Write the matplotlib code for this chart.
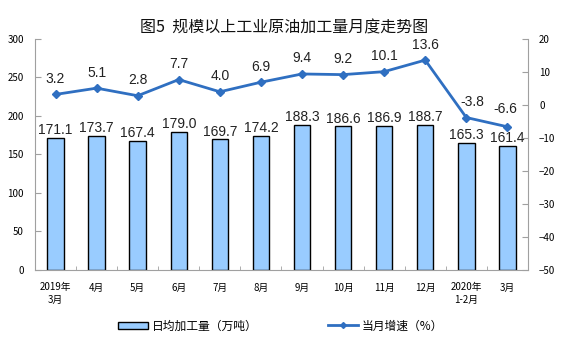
import numpy as np
import matplotlib.pyplot as plt
from matplotlib.lines import Line2D
from matplotlib.patches import Patch

plt.rcParams['font.family'] = ['Noto Sans CJK SC', 'DejaVu Sans']

# data
months = ['2019年\n3月', '4月', '5月', '6月', '7月', '8月', '9月', '10月',
          '11月', '12月', '2020年\n1-2月', '3月']
daily_output = [171.1, 173.7, 167.4, 179.0, 169.7, 174.2, 188.3, 186.6,
                186.9, 188.7, 165.3, 161.4]
growth = [3.2, 5.1, 2.8, 7.7, 4.0, 6.9, 9.4, 9.2, 10.1, 13.6, -3.8, -6.6]

bar_color = '#99CCFF'
line_color = '#2F6FC1'
spine_color = '#A0A0A0'
num_font = 'Liberation Sans'

fig = plt.figure(figsize=(5.61, 3.57), dpi=100)
ax = fig.add_axes([0.0624, 0.2437, 0.8786, 0.6471])
x = np.arange(len(months))

ax.bar(x, daily_output, width=0.4, color=bar_color, edgecolor='black', linewidth=1.0, zorder=2)
for xi, v in zip(x, daily_output):
    ax.text(xi, v + 1, f'{v:.1f}', ha='center', va='bottom', fontsize=10,
            family=num_font, color='#222222')

ax.set_xlim(-0.5, len(months) - 0.5)
ax.set_ylim(0, 300)
ax.set_yticks(range(0, 301, 50))
ax.set_xticks(x)
ax.set_xticklabels(months, fontsize=7, linespacing=1.3)
ax.tick_params(axis='x', length=0, pad=9)
ax.set_xticks(np.arange(-0.5, len(months), 1), minor=True)
ax.tick_params(axis='x', which='minor', direction='in', length=3, color=spine_color)
ax.tick_params(axis='y', labelsize=7, length=4, color=spine_color, direction='in', pad=8)
for s in ['left', 'bottom']:
    ax.spines[s].set_color(spine_color)
ax.spines['top'].set_visible(False)
ax.spines['right'].set_visible(False)

ax2 = ax.twinx()
ax2.plot(x, growth, color=line_color, linewidth=2.0, marker='D', markersize=4.5, zorder=3)
# label offsets (x, y) in data units
offsets = [(0, 2.6)] * 10 + [(0.15, 2.6), (-0.05, 3.4)]
for xi, v, (dx, dy) in zip(x, growth, offsets):
    ax2.text(xi + dx, v + dy, f'{v:.1f}', ha='center', va='bottom', fontsize=10,
             family=num_font, color='#222222')
ax2.set_ylim(-50, 20)
ax2.set_yticks(range(-50, 21, 10))
ax2.tick_params(axis='y', labelsize=7, length=4, color=spine_color, direction='in', pad=8)
ax2.spines['right'].set_color(spine_color)
for s in ['top', 'left', 'bottom']:
    ax2.spines[s].set_visible(False)

fig.text(0.506, 0.922, '图5  规模以上工业原油加工量月度走势图', ha='center', va='center',
         fontsize=11.5, color='#111111')

handles = [Patch(facecolor=bar_color, edgecolor='black', linewidth=1.0),
           Line2D([], [], color=line_color, linewidth=2.0, marker='D', markersize=3)]
fig.legend(handles, ['日均加工量（万吨）', '当月增速（%）'], loc='center',
           bbox_to_anchor=(0.5, 0.087), ncol=2, frameon=False, fontsize=8.5,
           columnspacing=6, handlelength=2.5, handleheight=0.6, handletextpad=0.3)

fig.savefig('out.png', dpi=100)
